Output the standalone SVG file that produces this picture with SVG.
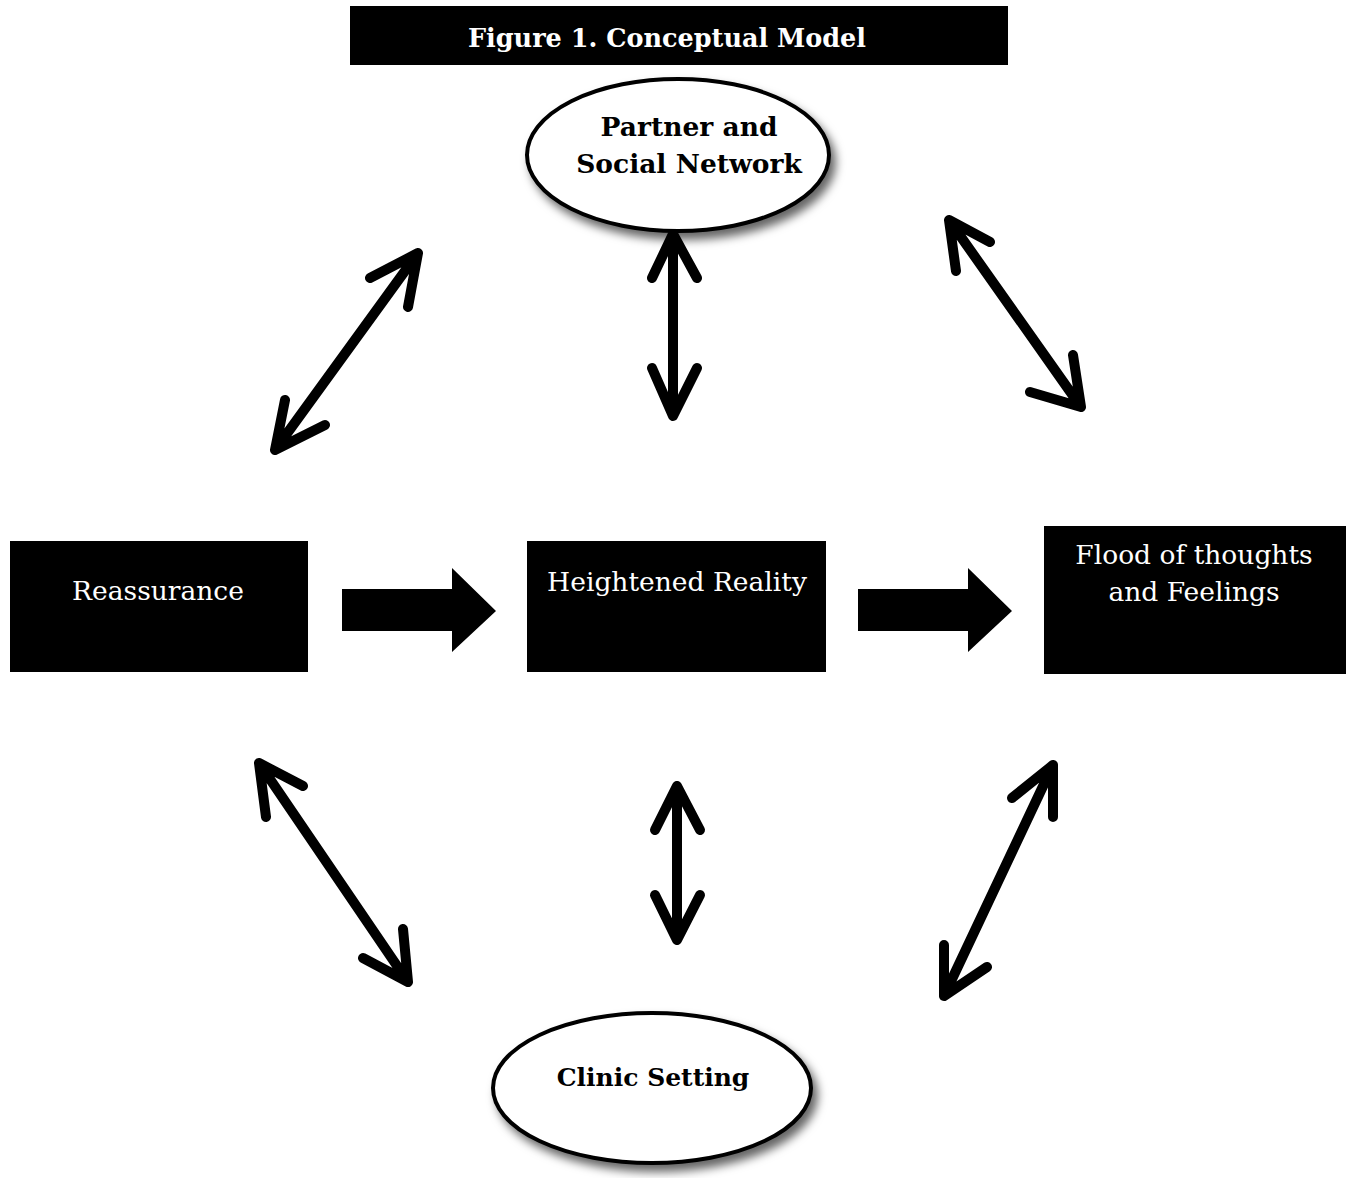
<svg xmlns="http://www.w3.org/2000/svg" width="1348" height="1178" viewBox="0 0 1348 1178">
<style>
.box{fill:#000}
.wt{fill:#fff;font-family:"DejaVu Serif","Liberation Serif",serif;font-size:26.5px;text-anchor:middle}
.bt{fill:#000;font-family:"DejaVu Serif","Liberation Serif",serif;font-size:26.5px;font-weight:bold;text-anchor:middle}
.ell{fill:#fff;stroke:#000;stroke-width:4}
.dbl{fill:none;stroke:#000;stroke-width:10;stroke-linecap:round;stroke-linejoin:round}
</style>
<defs>
<filter id="sh" x="-20%" y="-20%" width="150%" height="150%">
<feDropShadow dx="5" dy="7" stdDeviation="5" flood-color="#000" flood-opacity="0.6"/>
</filter>
</defs>
<rect width="1348" height="1178" fill="#fff"/>
<g id="title">
<rect class="box" x="350" y="6" width="658" height="59"/>
<text class="bt" x="667" y="47" style="fill:#fff;font-size:25.5px">Figure 1. Conceptual Model</text>
</g>
<g id="partner">
<ellipse class="ell" cx="678" cy="155" rx="151" ry="76" filter="url(#sh)"/>
<text class="bt" x="689" y="136">Partner and</text>
<text class="bt" x="689" y="173">Social Network</text>
</g>
<g id="clinic">
<ellipse class="ell" cx="652" cy="1088" rx="159" ry="75" filter="url(#sh)"/>
<text class="bt" x="653" y="1086" style="font-size:25px">Clinic Setting</text>
</g>
<g id="reassurance">
<rect class="box" x="10" y="541" width="298" height="131"/>
<text class="wt" x="158" y="600">Reassurance</text>
</g>
<g id="heightened">
<rect class="box" x="527" y="541" width="299" height="131"/>
<text class="wt" x="677" y="591">Heightened Reality</text>
</g>
<g id="flood">
<rect class="box" x="1044" y="526" width="302" height="148"/>
<text class="wt" x="1194" y="564">Flood of thoughts</text>
<text class="wt" x="1194" y="601">and Feelings</text>
</g>
<g id="connectors">
<polygon fill="#000" points="342,589 452,589 452,568 496,611 452,652 452,631 342,631"/>
<polygon fill="#000" points="858,589 968,589 968,568 1012,611 968,652 968,631 858,631"/>
<path class="dbl" d="M275,450 L418,253 M370,278 L418,253 L408,307 M285,400 L275,450 L325,425"/>
<path class="dbl" d="M673,234 L673,416 M652,278 L673,234 L697,278 M652,368 L673,416 L697,368"/>
<path class="dbl" d="M949,220 L1081,407 M990,242 L949,220 L956,271 M1030,392 L1081,407 L1073,355"/>
<path class="dbl" d="M259,763 L408,982 M303,786 L259,763 L266,817 M363,958 L408,982 L403,929"/>
<path class="dbl" d="M677,786 L677,940 M655,830 L677,786 L700,830 M655,895 L677,940 L700,895"/>
<path class="dbl" d="M1053,765 L944,996 M1012,798 L1053,765 L1053,817 M944,945 L944,996 L987,967"/>
</g>
</svg>
